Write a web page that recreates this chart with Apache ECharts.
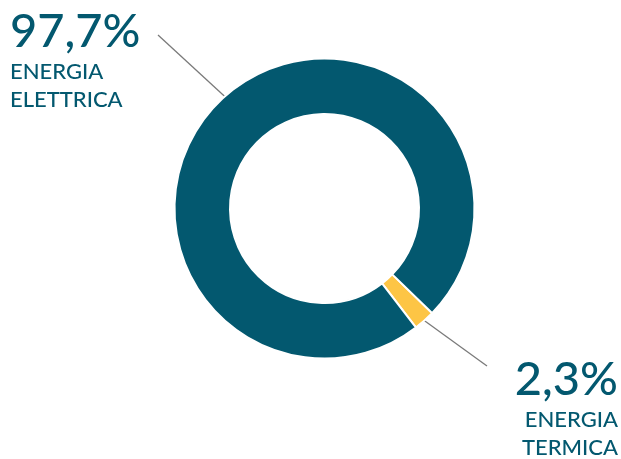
<!DOCTYPE html>
<html>
<head>
<meta charset="utf-8">
<script src="https://cdn.jsdelivr.net/npm/echarts@6/dist/echarts.min.js"></script>
<style>
html,body{margin:0;padding:0;background:#fff;}
#c{width:621px;height:459px;}
</style>
</head>
<body>
<div id="c"></div>
<script>
const categories = ['ENERGIA TERMICA', 'ENERGIA ELETTRICA'];
const values = [2.3, 97.7];
const valueLabels = ['2,3%', '97,7%'];
const sliceColors = ['#FDC545', '#03586F'];

const chart = echarts.init(document.getElementById('c'));
const textColor = '#03586F';

chart.setOption({
  animation: false,
  series: [{
    type: 'pie',
    center: [324.5, 208.5],
    radius: [94.5, 150],
    startAngle: -44.2,
    clockwise: true,
    data: categories.map((c, i) => ({
      name: c,
      value: values[i],
      itemStyle: { color: sliceColors[i] }
    })),
    itemStyle: { borderColor: '#fff', borderWidth: 2 },
    emphasis: { disabled: true },
    label: {
      show: true,
      position: 'outside',
      color: textColor,
      fontFamily: 'Lato',
      formatter: p => '{v|' + valueLabels[p.dataIndex] + '}\n' +
        p.name.split(' ').map(w => '{n|' + w + '}').join('\n'),
      rich: {
        v: { fontSize: 47, lineHeight: 52, fontFamily: 'Lato', color: textColor, fontWeight: 500 },
        n: { fontSize: 22, lineHeight: 28, fontFamily: 'Lato', color: textColor, fontWeight: 500 }
      }
    },
    labelLine: {
      show: true,
      length: 20,
      length2: 0,
      lineStyle: { color: '#7a7a7a', width: 1.3 }
    },
    labelLayout: function (params) {
      const pts = params.labelLinePoints;
      const p0 = pts ? pts[0] : null;
      if (params.dataIndex === 1) {
        return {
          x: 10, y: 6, align: 'left', verticalAlign: 'top',
          labelLinePoints: p0 ? [p0, [158, 35], [158, 35]] : undefined
        };
      }
      return {
        x: 618, y: 354, align: 'right', verticalAlign: 'top',
        labelLinePoints: p0 ? [p0, [487, 366], [487, 366]] : undefined
      };
    }
  }]
});
</script>
</body>
</html>
